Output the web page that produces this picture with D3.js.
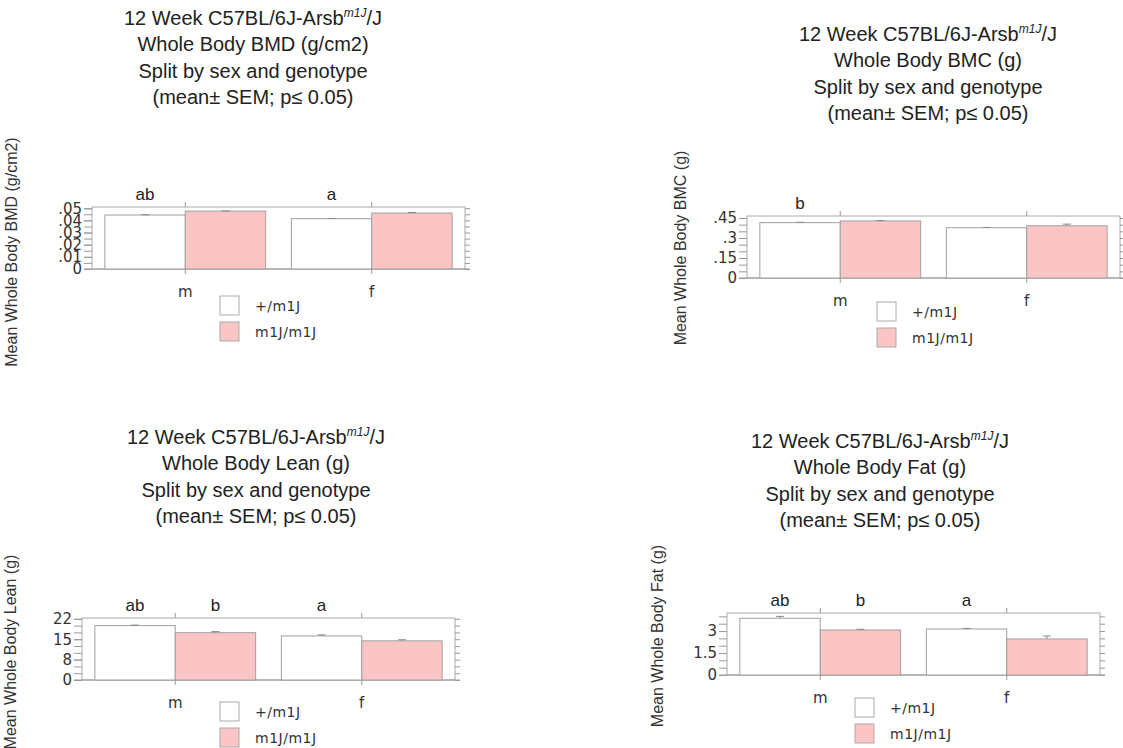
<!DOCTYPE html>
<html>
<head>
<meta charset="utf-8">
<script src="https://cdn.jsdelivr.net/npm/d3@7"></script>
<style>
  body { margin: 0; background: #fff; }
  svg { display: block; }
  .title { font-family: "Liberation Sans", Arial, sans-serif; font-size: 20px; fill: #222; text-anchor: middle; }
  .ytitle { font-family: "Liberation Sans", Arial, sans-serif; font-size: 16px; fill: #333; text-anchor: middle; }
  .letter { font-family: "Liberation Sans", Arial, sans-serif; font-size: 17px; fill: #222; text-anchor: middle; }
  .axis text { font-family: "DejaVu Sans", sans-serif; font-size: 15px; fill: #333; }
  .axis line { stroke: #999; }
  .axis path { display: none; }
  .legend text { font-family: "DejaVu Sans", sans-serif; font-size: 14px; fill: #333; letter-spacing: 0.5px; }
</style>
</head>
<body>
<svg id="chart" width="1123" height="748"></svg>
<script>
var sexes = ["m", "f"];
var genotypes = ["+/m1J", "m1J/m1J"];

// values in order: m +/m1J, m m1J/m1J, f +/m1J, f m1J/m1J
var bmdMeans = [0.0444, 0.0476, 0.0414, 0.0460];
var bmdSem = [0.0002, 0.0002, 0.0002, 0.0005];
var bmdLetters = ["ab", "", "a", ""];
var bmdTicks = [0, 0.01, 0.02, 0.03, 0.04, 0.05];
var bmdTickLabels = ["0", ".01", ".02", ".03", ".04", ".05"];

var bmcMeans = [0.415, 0.428, 0.377, 0.392];
var bmcSem = [0.003, 0.003, 0.002, 0.012];
var bmcLetters = ["b", "", "", ""];
var bmcTicks = [0, 0.15, 0.3, 0.45];
var bmcTickLabels = ["0", ".15", ".3", ".45"];

var leanMeans = [20.0, 17.4, 16.2, 14.4];
var leanSem = [0.2, 0.4, 0.4, 0.4];
var leanLetters = ["ab", "b", "a", ""];
var leanTicks = [0, 7.5, 15, 22.5];
var leanTickLabels = ["0", "8", "15", "22"];

var fatMeans = [3.87, 3.07, 3.14, 2.46];
var fatSem = [0.13, 0.05, 0.04, 0.2];
var fatLetters = ["ab", "b", "a", ""];
var fatTicks = [0, 1.5, 3];
var fatTickLabels = ["0", "1.5", "3"];

var pink = "#fbc5c5";

// layout of the four panels
var panels = [
  { measure: "BMD (g/cm2)", means: bmdMeans, sem: bmdSem, letters: bmdLetters,
    ticks: bmdTicks, tickLabels: bmdTickLabels, minorStep: 0.005, top: 0.051,
    x: 92, y: 207, titleX: 253, titleY: 18, yTitleX: 11, yTitleY: 252, legX: 220, legY: 296 },
  { measure: "BMC (g)", means: bmcMeans, sem: bmcSem, letters: bmcLetters,
    ticks: bmcTicks, tickLabels: bmcTickLabels, minorStep: 0.05, top: 0.465,
    x: 747, y: 216, titleX: 928, titleY: 34, yTitleX: 680, yTitleY: 248, legX: 877, legY: 302 },
  { measure: "Lean (g)", means: leanMeans, sem: leanSem, letters: leanLetters,
    ticks: leanTicks, tickLabels: leanTickLabels, minorStep: 2.5, top: 22.8,
    x: 82, y: 618, titleX: 256, titleY: 437, yTitleX: 10, yTitleY: 652, legX: 220, legY: 702 },
  { measure: "Fat (g)", means: fatMeans, sem: fatSem, letters: fatLetters,
    ticks: fatTicks, tickLabels: fatTickLabels, minorStep: 0.5, top: 4.23,
    x: 727, y: 613, titleX: 880, titleY: 441, yTitleX: 657, yTitleY: 636, legX: 855, legY: 698 }
];

var width = 373,
    height = 62;

var svg = d3.select("#chart");

panels.forEach(drawPanel);

function drawPanel(p) {
  var data = [];
  sexes.forEach(function(s, i) {
    genotypes.forEach(function(g, j) {
      var k = i * 2 + j;
      data.push({ sex: s, geno: g, mean: p.means[k], sem: p.sem[k], letter: p.letters[k] });
    });
  });

  // title, four centred lines
  var title = svg.append("text")
      .attr("class", "title")
      .attr("x", p.titleX)
      .attr("y", p.titleY + 7);
  var first = title.append("tspan").attr("x", p.titleX);
  first.append("tspan").text("12 Week C57BL/6J-Arsb");
  first.append("tspan").attr("font-size", "12px").attr("font-style", "italic").attr("dy", -8).text("m1J");
  first.append("tspan").attr("dy", 8).text("/J");
  ["Whole Body " + p.measure, "Split by sex and genotype", "(mean\u00b1 SEM; p\u2264 0.05)"].forEach(function(t, i) {
    title.append("tspan").attr("x", p.titleX).attr("y", p.titleY + 7 + 26.3 * (i + 1)).text(t);
  });

  svg.append("text")
      .attr("class", "ytitle")
      .attr("transform", "translate(" + p.yTitleX + "," + p.yTitleY + ") rotate(-90)")
      .attr("dy", "0.35em")
      .text("Mean Whole Body " + p.measure);

  var g = svg.append("g")
      .attr("transform", "translate(" + p.x + "," + p.y + ")");

  var x0 = d3.scaleBand()
      .domain(sexes)
      .range([0, width]);

  var x1 = d3.scaleBand()
      .domain(genotypes)
      .range([0, x0.bandwidth()])
      .paddingOuter(0.16);

  var y = d3.scaleLinear()
      .domain([0, p.top])
      .range([height, 0]);

  var minor = d3.range(0, p.top + 1e-9, p.minorStep);

  // frame
  g.append("rect")
      .attr("width", width)
      .attr("height", height)
      .attr("fill", "none")
      .attr("stroke", "#aaa");

  g.append("line")
      .attr("x1", -8).attr("x2", width + 5)
      .attr("y1", height).attr("y2", height)
      .attr("stroke", "#999");

  g.append("g")
      .attr("class", "axis")
      .call(d3.axisLeft(y).tickValues(minor).tickSize(8).tickFormat(""));

  g.append("g")
      .attr("class", "axis")
      .call(d3.axisLeft(y).tickValues(p.ticks).tickSize(8).tickPadding(2)
        .tickFormat(function(d, i) { return p.tickLabels[i]; }));

  g.append("g")
      .attr("class", "axis")
      .attr("transform", "translate(" + width + ",0)")
      .call(d3.axisRight(y).tickValues(minor).tickSize(5).tickFormat(""));

  g.append("g")
      .attr("class", "axis")
      .call(d3.axisTop(x0).tickSize(5).tickFormat(""));

  g.append("g")
      .attr("class", "axis")
      .attr("transform", "translate(0," + height + ")")
      .call(d3.axisBottom(x0).tickSize(5).tickPadding(12));

  var bar = g.selectAll(".bar")
      .data(data)
    .enter().append("g")
      .attr("class", "bar")
      .attr("transform", function(d) { return "translate(" + (x0(d.sex) + x1(d.geno)) + ",0)"; });

  bar.append("rect")
      .attr("y", function(d) { return y(d.mean); })
      .attr("height", function(d) { return height - y(d.mean); })
      .attr("width", x1.bandwidth())
      .attr("fill", function(d) { return d.geno == "+/m1J" ? "#fff" : pink; })
      .attr("stroke", "#a0a0a0");

  var cx = x1.bandwidth() / 2;
  bar.append("line")
      .attr("x1", cx).attr("x2", cx)
      .attr("y1", function(d) { return y(d.mean); })
      .attr("y2", function(d) { return y(d.mean + d.sem); })
      .attr("stroke", "#888");

  bar.append("line")
      .attr("x1", cx - 4).attr("x2", cx + 4)
      .attr("y1", function(d) { return y(d.mean + d.sem); })
      .attr("y2", function(d) { return y(d.mean + d.sem); })
      .attr("stroke", "#888");

  bar.append("text")
      .attr("class", "letter")
      .attr("x", cx)
      .attr("y", -7)
      .text(function(d) { return d.letter; });

  // legend
  var leg = svg.append("g")
      .attr("class", "legend")
      .attr("transform", "translate(" + p.legX + "," + p.legY + ")");

  var item = leg.selectAll("g")
      .data(genotypes)
    .enter().append("g")
      .attr("transform", function(d, i) { return "translate(0," + (i * 26) + ")"; });

  item.append("rect")
      .attr("width", 19)
      .attr("height", 19)
      .attr("fill", function(d, i) { return i == 0 ? "#fff" : pink; })
      .attr("stroke", "#aaa");

  item.append("text")
      .attr("x", 35)
      .attr("y", 10)
      .attr("dy", "0.35em")
      .text(function(d) { return d; });
}
</script>
</body>
</html>
